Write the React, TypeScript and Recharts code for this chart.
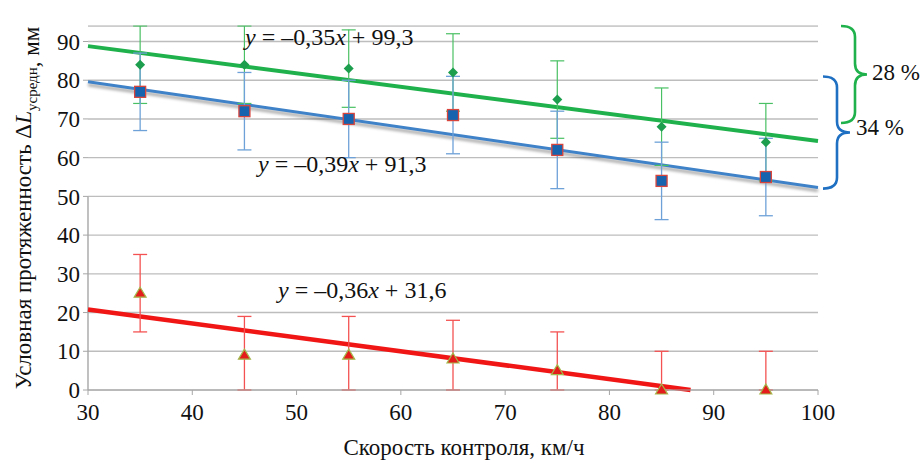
import {
  ComposedChart,
  XAxis,
  YAxis,
  CartesianGrid,
  Line,
  Scatter,
  ErrorBar,
  ReferenceLine,
} from "recharts";

const speeds = [35, 45, 55, 65, 75, 85, 95];
const upperValues = [84, 84, 83, 82, 75, 68, 64];
const middleValues = [77, 72, 70, 71, 62, 54, 55];
const lowerValues = [25, 9, 9, 8, 5, 0, 0];
const spread = 10;

const xTicks = [30, 40, 50, 60, 70, 80, 90, 100];
const yTicks = [0, 10, 20, 30, 40, 50, 60, 70, 80, 90];

// linear trends: [slope, intercept]
const upperTrend = [-0.35, 99.3];
const middleTrend = [-0.39, 91.3];
const lowerTrend = [-0.36, 31.6];

const upperLabel = "0,35x + 99,3";
const middleLabel = "0,39x + 91,3";
const lowerLabel = "0,36x + 31,6";

const W = 923;
const H = 462;
const plot = { left: 88, right: 818, top: 26, bottom: 390 };
const font = "Liberation Serif";

const yPx = (v: number) =>
  plot.bottom - (v / 90) * (plot.bottom - plot.top);

function points(values: number[], clipAtZero = false) {
  return speeds.map((x, i) => ({
    x,
    y: values[i],
    err: clipAtZero ? [Math.min(values[i], spread), spread] : spread,
  }));
}

function trend([a, b]: number[]) {
  const x0 = 30;
  let x1 = 100;
  if (a * x1 + b < 0) x1 = -b / a;
  return [
    { x: x0, y: a * x0 + b },
    { x: x1, y: Math.max(0, a * x1 + b) },
  ];
}

const Diamond = (p: any) => (
  <path
    d={`M${p.cx},${p.cy - 5}L${p.cx + 5},${p.cy}L${p.cx},${p.cy + 5}L${p.cx - 5},${p.cy}Z`}
    fill="#1c9e4e"
  />
);

const Square = (p: any) => (
  <rect
    x={p.cx - 5.5}
    y={p.cy - 5.5}
    width={11}
    height={11}
    fill="#1763ae"
    stroke="#d8453c"
    strokeWidth={1.3}
  />
);

const Triangle = (p: any) => (
  <path
    d={`M${p.cx},${p.cy - 6}L${p.cx + 6},${p.cy + 4}L${p.cx - 6},${p.cy + 4}Z`}
    fill="#e41c1c"
    stroke="#a3b94c"
    strokeWidth={1.2}
  />
);

function Brace({ x0, xv, xt, top, bottom, color }: any) {
  const mid = (top + bottom) / 2;
  const r = 11;
  const d = [
    `M${x0},${top}`,
    `Q${xv},${top} ${xv},${top + r}`,
    `L${xv},${mid - r}`,
    `Q${xv},${mid} ${xt},${mid}`,
    `Q${xv},${mid} ${xv},${mid + r}`,
    `L${xv},${bottom - r}`,
    `Q${xv},${bottom} ${x0},${bottom}`,
  ].join(" ");
  return <path d={d} fill="none" stroke={color} strokeWidth={2.6} />;
}

function Equation({ x, y, rest }: { x: number; y: number; rest: string }) {
  const [k, b] = rest.split("x");
  return (
    <text x={x} y={y} fontSize={24} fill="#111" fontFamily={font}>
      <tspan fontStyle="italic">y</tspan> = –{k}
      <tspan fontStyle="italic">x</tspan>
      {b}
    </text>
  );
}

export default function App() {
  const greenTop = yPx(90);
  const greenBottom = yPx(66);
  const blueTop = yPx(77.5);
  const blueBottom = yPx(49.8);

  return (
    <div style={{ position: "absolute", left: 0, top: 0, width: W, height: H, background: "#fff" }}>
      <style>{`.middle-trend .recharts-curve { filter: drop-shadow(0 3px 1.5px rgba(0,0,0,0.35)); }`}</style>
      <ComposedChart
        width={W}
        height={H}
        margin={{ top: plot.top, right: W - plot.right, bottom: 0, left: 0 }}
      >
        <CartesianGrid vertical={false} stroke="#bdbdbd" strokeWidth={1.4} />
        <XAxis
          dataKey="x"
          type="number"
          domain={[30, 100]}
          ticks={xTicks}
          height={H - plot.bottom}
          tickSize={5}
          tickMargin={9}
          stroke="#a6a6a6"
          tick={{ fill: "#111", fontSize: 23, fontFamily: font }}
          label={{
            value: "Скорость контроля, км/ч",
            position: "insideBottom",
            offset: 7,
            dx: 11,
            fill: "#111",
            fontSize: 23,
            fontFamily: font,
          }}
        />
        <YAxis
          type="number"
          domain={[0, 90]}
          ticks={yTicks}
          width={plot.left}
          axisLine={false}
          tickSize={5}
          tickMargin={3}
          tickLine={{ stroke: "#a6a6a6" }}
          tick={{ fill: "#111", fontSize: 23, fontFamily: font }}
        />
        <ReferenceLine
          segment={[
            { x: 30, y: 0 },
            { x: 30, y: 50 },
          ]}
          stroke="#a6a6a6"
          strokeWidth={1.4}
        />

        <Line
          data={trend(upperTrend)}
          dataKey="y"
          stroke="#1fb14b"
          strokeWidth={4}
          dot={false}
          isAnimationActive={false}
        />
        <Line
          data={trend(middleTrend)}
          dataKey="y"
          className="middle-trend"
          stroke="#3f82c8"
          strokeWidth={3}
          dot={false}
          isAnimationActive={false}
        />
        <Line
          data={trend(lowerTrend)}
          dataKey="y"
          stroke="#f01616"
          strokeWidth={4.5}
          dot={false}
          isAnimationActive={false}
        />

        <Scatter data={points(upperValues)} dataKey="y" shape={Diamond} isAnimationActive={false}>
          <ErrorBar dataKey="err" direction="y" width={7} stroke="#49c063" strokeWidth={1.2} />
        </Scatter>
        <Scatter data={points(middleValues)} dataKey="y" shape={Square} isAnimationActive={false}>
          <ErrorBar dataKey="err" direction="y" width={7} stroke="#6ea1d8" strokeWidth={1.3} />
        </Scatter>
        <Scatter data={points(lowerValues, true)} dataKey="y" shape={Triangle} isAnimationActive={false}>
          <ErrorBar dataKey="err" direction="y" width={7} stroke="#f45252" strokeWidth={1.3} />
        </Scatter>
      </ComposedChart>

      <svg
        width={W}
        height={H}
        style={{ position: "absolute", left: 0, top: 0, pointerEvents: "none" }}
      >
        {/* keeps the error bars inside the plot top */}
        <rect x={plot.left} y={0} width={plot.right - plot.left} height={plot.top - 0.8} fill="#fff" />

        <text
          transform="rotate(-90)"
          x={-208}
          y={31}
          textAnchor="middle"
          fontSize={23}
          fill="#111"
          fontFamily={font}
        >
          Условная протяженность Δ<tspan fontStyle="italic">L</tspan>
          <tspan fontSize={15} dy={6}>усредн</tspan>
          <tspan dy={2}>, мм</tspan>
        </text>

        <Equation x={245} y={45} rest={upperLabel} />
        <Equation x={258} y={172} rest={middleLabel} />
        <Equation x={278} y={298} rest={lowerLabel} />

        <Brace x0={841} xv={855} xt={867} top={greenTop} bottom={greenBottom} color="#1fb14b" />
        <Brace x0={823} xv={837} xt={850} top={blueTop} bottom={blueBottom} color="#1f6fc2" />
        <text x={872} y={80} fontSize={23} fill="#111" fontFamily={font}>
          28 %
        </text>
        <text x={856} y={135} fontSize={23} fill="#111" fontFamily={font}>
          34 %
        </text>
      </svg>
    </div>
  );
}
